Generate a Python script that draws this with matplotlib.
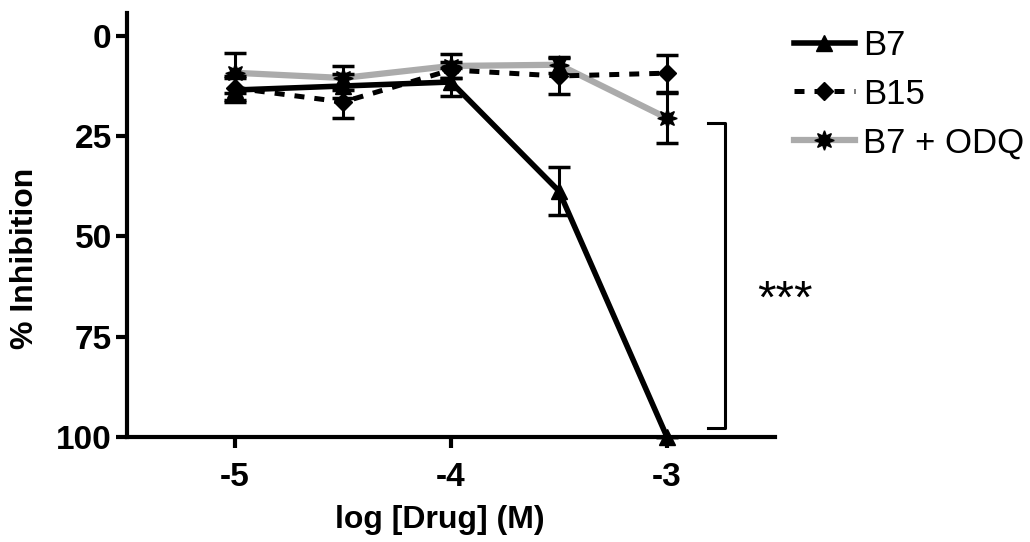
import matplotlib
matplotlib.use("Agg")
import matplotlib.pyplot as plt

plt.rcParams["font.family"] = ["Liberation Sans", "DejaVu Sans"]

# log concentration of drug (M)
log_dose = [-5.0, -4.5, -4.0, -3.5, -3.0]

# % inhibition, mean and error per series
b7_mean = [13.5, 12.5, 11.5, 38.7, 100.0]
b7_err = [3.0, 3.0, 3.5, 6.0, 0.0]
b15_mean = [13.0, 16.5, 8.5, 10.0, 9.3]
b15_err = [3.0, 4.0, 2.0, 4.5, 4.6]
odq_mean = [9.2, 10.5, 7.5, 7.2, 20.5]
odq_err = [5.0, 3.0, 3.0, 2.0, 6.2]

y_ticks = [0, 25, 50, 75, 100]
x_ticks = [-5, -4, -3]

fig = plt.figure(figsize=(10.3, 5.42), dpi=100)
ax = fig.add_axes([127 / 1030, 1 - 437 / 542, 648 / 1030, 424 / 542])

err_kw = dict(ecolor="black", elinewidth=2.2, capsize=8, capthick=2.5)

odq = ax.errorbar(log_dose, odq_mean, yerr=odq_err, color="#ababab", lw=4.5,
                  marker=(8, 1, 0), ms=14, mfc="black", mec="black",
                  zorder=2, **err_kw)
b15 = ax.errorbar(log_dose, b15_mean, yerr=b15_err, color="black", lw=3.6,
                  ls=(0, (2, 2)), marker="D", ms=9, mfc="black", mec="black",
                  zorder=3, **err_kw)
b7 = ax.errorbar(log_dose, b7_mean, yerr=b7_err, color="black", lw=4,
                 marker="^", ms=11, mfc="black", mec="black",
                 zorder=4, **err_kw)
# let the markers at 100 % sit on the axis line without being cut
for art in (odq, b15, b7):
    art[0].set_clip_on(False)
    for c in art[1] + art[2]:
        c.set_clip_on(False)

ax.set_xlim(-5.5, -2.5)
ax.set_ylim(100, -5.7)
ax.set_xticks(x_ticks)
ax.set_xticklabels([str(t) for t in x_ticks])
ax.set_yticks(y_ticks)
ax.set_yticklabels([str(t) for t in y_ticks])

for side in ["top", "right"]:
    ax.spines[side].set_visible(False)
for side in ["left", "bottom"]:
    ax.spines[side].set_linewidth(3)

ax.tick_params(axis="both", width=3, length=8, labelsize=24)
ax.tick_params(axis="x", pad=10)
ax.tick_params(axis="y", pad=3)
for lbl in ax.get_xticklabels() + ax.get_yticklabels():
    lbl.set_fontweight("bold")

fig.text(440 / 1030, 1 - 520 / 542, "log [Drug] (M)", fontsize=23,
         fontweight="bold", ha="center", va="center")
fig.text(25 / 1030, 1 - 258 / 542, "% Inhibition", fontsize=23,
         fontweight="bold", ha="center", va="center", rotation=90)

# significance bracket between B7 and B7 + ODQ at the top dose
ax.plot([-2.81, -2.732, -2.732, -2.81], [21.7, 21.7, 97.8, 97.8],
        color="black", lw=2.2, clip_on=False)
ax.text(-2.454, 66, "***", fontsize=34, ha="center", va="center")

leg = ax.legend([b7[0], b15[0], odq[0]], ["B7", "B15", "B7 + ODQ"],
                loc="upper left", bbox_to_anchor=(794 / 1030, 1 - 29 / 542),
                bbox_transform=fig.transFigure, frameon=False, fontsize=25,
                handlelength=1.75, handletextpad=0.25, labelspacing=0.45,
                borderpad=0, borderaxespad=0)

fig.savefig("out.png", dpi=100)
